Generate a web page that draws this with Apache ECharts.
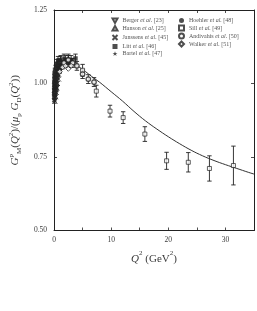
<!DOCTYPE html>
<html><head><meta charset="utf-8">
<script src="https://cdn.jsdelivr.net/npm/echarts@6/dist/echarts.min.js"></script>
<style>html,body{margin:0;padding:0;background:#fff}#c{width:257px;height:311px}</style>
</head><body><div id="c"></div>
<script>
// ---- data ----
const xTicks = [0, 10, 20, 30];
const yTicks = [0.50, 0.75, 1.00, 1.25];
const fitQ2  = [0, 0.5, 1, 2, 3, 4, 5, 6, 7, 8, 10, 12, 14, 16, 18, 20, 22, 24, 26, 28, 30, 32, 34, 35];
const fitVal = [1.0, 1.03, 1.045, 1.062, 1.066, 1.06, 1.048, 1.033, 1.018, 1.004, 0.972, 0.94, 0.905, 0.873, 0.845, 0.819, 0.795, 0.773, 0.754, 0.738, 0.724, 0.711, 0.698, 0.692];
const berger    = [[0.16,1.0],[0.2,1.03],[0.24,0.99],[0.29,1.04],[0.39,1.02],[0.49,1.05],[0.58,1.03],[0.68,1.06],[0.78,1.04],[0.88,1.07],[0.97,1.05],[1.17,1.07],[1.36,1.06],[1.56,1.08],[1.75,1.07]];
const hanson    = [[0.12,0.97],[0.18,0.99],[0.25,1.01],[0.31,0.98],[0.39,1.02],[0.5,1.0],[0.6,1.03]];
const janssens  = [[0.16,0.94],[0.2,0.96],[0.25,0.98],[0.3,0.955],[0.35,0.99],[0.4,0.97],[0.45,1.0],[0.5,0.985],[0.55,1.02],[0.6,1.0],[0.7,1.03],[0.8,1.015],[0.86,1.045]];
const litt      = [[1.0,1.05],[1.5,1.07],[2.0,1.08],[2.5,1.07],[3.0,1.08],[3.75,1.085]];
const littErr   = [0.015,0.015,0.015,0.015,0.015,0.015];
const bartel    = [[0.67,1.04],[1.0,1.06],[1.17,1.08],[1.5,1.065],[1.75,1.085],[2.0,1.07],[2.5,1.085],[3.0,1.07]];
const bartelErr = [0.015,0.015,0.015,0.015,0.015,0.015,0.015,0.015];
const hoehler   = [[0.01,0.97],[0.02,1.0],[0.03,0.95],[0.04,0.98],[0.05,1.02],[0.06,0.96],[0.08,0.99],[0.09,1.03],[0.1,0.945],[0.12,0.98],[0.13,1.01],[0.15,0.97],[0.16,1.04],[0.18,0.99],[0.2,1.02],[0.22,0.96],[0.25,1.0],[0.27,1.05],[0.3,0.98],[0.33,1.03],[0.36,1.01],[0.4,1.06],[0.44,0.99],[0.48,1.04],[0.52,1.02],[0.56,1.07],[0.6,1.03],[0.65,1.05],[0.7,1.08],[0.75,1.04],[0.8,1.06],[0.9,1.07],[1.0,1.05],[1.1,1.08],[1.2,1.06]];
const hoehlerErr= [0.012,0.012,0.012,0.012,0.012,0.012,0.012,0.012,0.012,0.012,0.012,0.012,0.012,0.012,0.012,0.012,0.012,0.012,0.012,0.012,0.012,0.012,0.012,0.012,0.012,0.012,0.012,0.012,0.012,0.012,0.012,0.012,0.012,0.012,0.012];
const sill      = [[5.0,1.045],[7.4,0.974],[9.8,0.906],[12.1,0.884],[15.9,0.828],[19.7,0.737],[23.5,0.732],[27.2,0.711],[31.4,0.721]];
const sillErr   = [0.02,0.02,0.02,0.02,0.025,0.029,0.033,0.043,0.066];
const andivahis = [[1.75,1.07],[2.5,1.08],[3.25,1.07],[4.0,1.06],[5.0,1.032],[6.0,1.015],[7.0,1.005]];
const andErr    = [0.015,0.015,0.015,0.015,0.015,0.015,0.015];
const walker    = [[1.0,1.04],[1.5,1.055],[2.0,1.06],[2.5,1.05],[3.0,1.06]];
const names = ['Berger','Hanson','Janssens','Litt','Bartel','Hoehler','Sill','Andivahis','Walker'];
const refs  = ['[23]','[25]','[45]','[46]','[47]','[48]','[49]','[50]','[51]'];

// ---- chart ----
const FONT = '"Liberation Serif","DejaVu Serif",serif';
const INK = '#222';
const TXT = '#3a3a3a';
const chart = echarts.init(document.getElementById('c'), null, {renderer:'canvas'});
const hollow = {color:'#fff', borderColor:INK, borderWidth:0.9};
const solid = {color:INK, borderColor:INK, borderWidth:0};
const downTri = 'path://M0,0L10,0L5,9Z';
const upTri = 'path://M5,0L10,9L0,9Z';
const cross = 'path://M0,0L10,10M10,0L0,10';
const star = 'path://M5,0L6.2,3.6L10,3.6L6.9,5.9L8.1,9.5L5,7.3L1.9,9.5L3.1,5.9L0,3.6L3.8,3.6Z';

function errData(pts, errs){ return pts.map((p,i)=>[p[0], p[1]-errs[i], p[1]+errs[i]]); }
function errSeries(pts, errs){
  return {type:'custom', silent:true, z:1, data: errData(pts, errs),
    renderItem:function(params, api){
      const a = api.coord([api.value(0), api.value(1)]);
      const b = api.coord([api.value(0), api.value(2)]);
      const w = 2.2;
      return {type:'group', children:[
        {type:'line', shape:{x1:a[0],y1:a[1],x2:b[0],y2:b[1]}, style:{stroke:INK, lineWidth:0.9}},
        {type:'line', shape:{x1:a[0]-w,y1:a[1],x2:a[0]+w,y2:a[1]}, style:{stroke:INK, lineWidth:0.9}},
        {type:'line', shape:{x1:b[0]-w,y1:b[1],x2:b[0]+w,y2:b[1]}, style:{stroke:INK, lineWidth:0.9}}
      ]};
    }};
}
function sc(name, data, symbol, size, style){
  return {name:name, type:'scatter', data:data, symbol:symbol, symbolSize:size, itemStyle:style, z:3, silent:true};
}
const legendFmt = function(n){ const i = names.indexOf(n); return n + ' {i|et al.} ' + refs[i]; };
const legendText = {fontFamily:FONT, fontSize:6, lineHeight:6, color:'#555', rich:{i:{fontFamily:FONT, fontStyle:'italic', fontSize:6, lineHeight:6, color:'#555'}}};

const option = {
  animation:false,
  backgroundColor:'#fff',
  grid:{left:44, right:3, top:10, bottom:80.5},
  legend:[
    {data:names.slice(0,5), orient:'vertical', left:110, top:17.5, itemWidth:5, itemHeight:5, itemGap:1, formatter:legendFmt, textStyle:legendText, padding:0, selectedMode:false},
    {data:names.slice(5), orient:'vertical', left:178, top:17.5, itemWidth:5, itemHeight:5, itemGap:1, formatter:legendFmt, textStyle:legendText, padding:0, selectedMode:false}
  ],
  xAxis:[
    {type:'value', min:0, max:35, interval:5, position:'bottom',
     name:'{i|Q}{sup|2} {n|(GeV}{sup|2}{n|)}', nameLocation:'middle', nameGap:18,
     nameTextStyle:{fontFamily:FONT, fontSize:11, color:TXT, rich:{
       i:{fontFamily:FONT, fontStyle:'italic', fontSize:11, color:TXT, lineHeight:15, verticalAlign:'bottom'},
       n:{fontFamily:FONT, fontSize:11, color:TXT, lineHeight:15, verticalAlign:'bottom'},
       sup:{fontFamily:FONT, fontSize:7, color:TXT, lineHeight:15, verticalAlign:'top'}}},
     axisLine:{show:true, onZero:false, lineStyle:{color:INK, width:1}},
     axisTick:{show:true, inside:true, length:3, lineStyle:{color:INK, width:0.8}},
     axisLabel:{fontFamily:FONT, fontSize:7.5, color:TXT, margin:6,
       formatter:function(v){ return xTicks.indexOf(v) >= 0 ? String(v) : ''; }},
     splitLine:{show:false}},
    {type:'value', min:0, max:35, interval:5, position:'top',
     axisLine:{show:true, onZero:false, lineStyle:{color:INK, width:1}},
     axisTick:{show:true, inside:true, length:3, lineStyle:{color:INK, width:0.8}},
     axisLabel:{show:false}, splitLine:{show:false}}
  ],
  yAxis:[
    {type:'value', min:0.5, max:1.25, interval:0.25, position:'left',
     name:'{i|G}{sup|p}{sub|M}{n|(}{i|Q}{sup|2}{n|)/(}{i|μ}{sub|p} {i|G}{sub|D}{n|(}{i|Q}{sup|2}{n|))}',
     nameLocation:'middle', nameRotate:90, nameGap:25,
     nameTextStyle:{fontFamily:FONT, fontSize:11, color:TXT, rich:{
       i:{fontFamily:FONT, fontStyle:'italic', fontSize:11, color:TXT, lineHeight:15, verticalAlign:'middle'},
       n:{fontFamily:FONT, fontSize:11, color:TXT, lineHeight:15, verticalAlign:'middle'},
       sup:{fontFamily:FONT, fontSize:7, color:TXT, lineHeight:15, verticalAlign:'top'},
       sub:{fontFamily:FONT, fontSize:7, color:TXT, lineHeight:15, verticalAlign:'bottom'}}},
     axisLine:{show:true, onZero:false, lineStyle:{color:INK, width:1}},
     axisTick:{show:true, inside:true, length:3, lineStyle:{color:INK, width:0.8}},
     axisLabel:{fontFamily:FONT, fontSize:7.5, color:TXT, margin:7,
       formatter:function(v){ return yTicks.some(t=>Math.abs(t-v)<1e-9) ? v.toFixed(2) : ''; }},
     splitLine:{show:false}},
    {type:'value', min:0.5, max:1.25, interval:0.25, position:'right',
     axisLine:{show:true, onZero:false, lineStyle:{color:INK, width:1}},
     axisTick:{show:true, inside:true, length:3, lineStyle:{color:INK, width:0.8}},
     axisLabel:{show:false}, splitLine:{show:false}}
  ],
  series:[
    {name:'fit', type:'line', data:fitQ2.map((q,i)=>[q, fitVal[i]]), smooth:0.4, showSymbol:false, symbol:'none',
     lineStyle:{color:'#333', width:1}, z:2, silent:true},
    errSeries(sill, sillErr),
    errSeries(litt, littErr),
    errSeries(bartel, bartelErr),
    errSeries(hoehler, hoehlerErr),
    errSeries(andivahis, andErr),
    sc('Berger', berger, downTri, [5,4.5], hollow),
    sc('Hanson', hanson, upTri, [5,4.5], hollow),
    sc('Janssens', janssens, cross, 5, {color:'none', borderColor:INK, borderWidth:0.9}),
    sc('Litt', litt, 'rect', 4.5, solid),
    sc('Bartel', bartel, star, 6, solid),
    sc('Hoehler', hoehler, 'circle', 4.5, solid),
    sc('Sill', sill, 'rect', 4, hollow),
    sc('Andivahis', andivahis, 'circle', 4.5, {color:'#fff', borderColor:INK, borderWidth:1.3}),
    sc('Walker', walker, 'diamond', 5, hollow)
  ]
};
chart.setOption(option);
</script></body></html>
